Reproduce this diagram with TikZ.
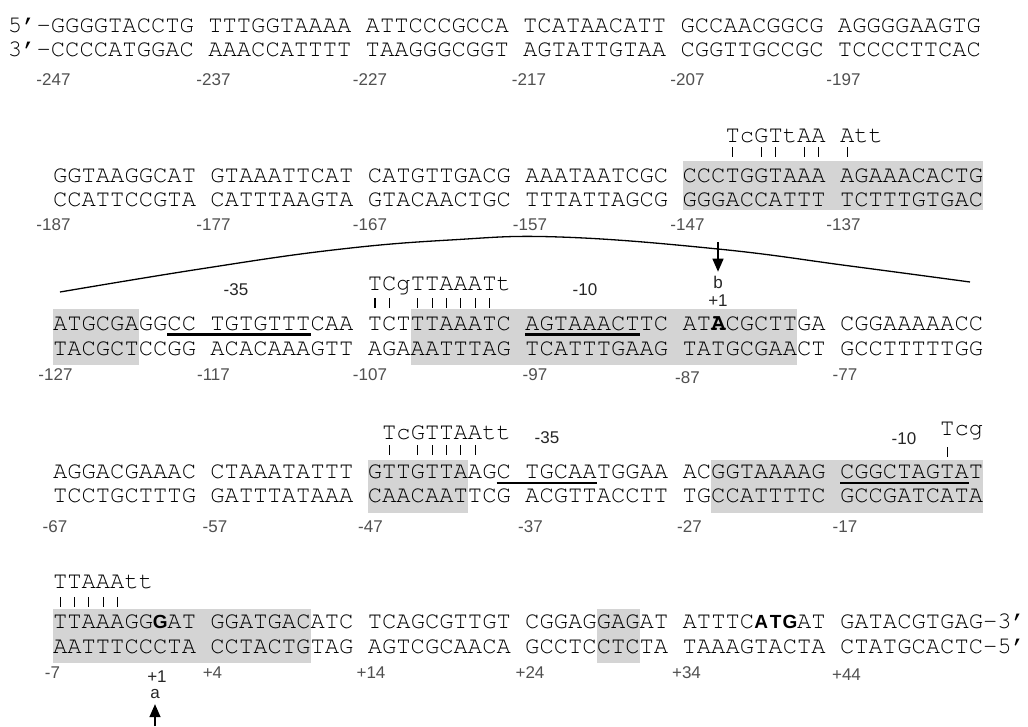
\documentclass[tikz,border=0pt]{standalone}
\usepackage[T1]{fontenc}
\usepackage{fontspec}
\setmainfont{Liberation Serif}
\setsansfont{Liberation Sans}
\usetikzlibrary{arrows.meta}
\definecolor{shade}{RGB}{212,212,212}
\definecolor{numgray}{RGB}{80,80,80}
\newcommand\seqfamily{\fontencoding{T1}\fontfamily{pcr}\fontseries{m}\fontshape{n}\selectfont}
\newcommand\cx[1]{53+#1*14.31}
\newcommand\bsans[1]{\makebox[14.31pt]{\fontencoding{TU}\fontsize{19}{20}\selectfont\sffamily\bfseries #1}}
\newcommand\bmono[1]{\textbf{#1}}
\tikzset{
  seq/.style={anchor=base west, inner sep=0pt, outer sep=0pt, font=\seqfamily\fontsize{23.85}{28}\selectfont},
  num/.style={anchor=base, inner sep=0pt, outer sep=0pt, font=\sffamily\fontsize{17}{19}\selectfont, text=numgray},
  lbl/.style={anchor=base, inner sep=0pt, outer sep=0pt, font=\sffamily\fontsize{17}{19}\selectfont, text=black!85},
  tickmark/.style={line width=1.1pt},
  uline/.style={line width=2.6pt},
  greybox/.style={fill=shade, draw=none},
  arr/.style={-{Triangle[width=11pt,length=13pt]}, line width=1.4pt},
  arc/.style={line width=1.3pt}
}
\begin{document}
\begin{tikzpicture}[x=1pt,y=-1pt]
\useasboundingbox (0,0) rectangle (1028,726);
\fill[white] (0,0) rectangle (1028,726);
% ---------- grey boxes ----------
\fill[greybox] ({\cx{44}},161) rectangle ({\cx{65}},210);
\fill[greybox] ({\cx{0}},309) rectangle ({\cx{6}},365);
\fill[greybox] ({\cx{25}},309) rectangle ({\cx{52}},365);
\fill[greybox] ({\cx{22}},460) rectangle ({\cx{29}},513);
\fill[greybox] ({\cx{46}},460) rectangle ({\cx{65}},513);
\fill[greybox] ({\cx{0}},609) rectangle ({\cx{18}},663);
\fill[greybox] ({\cx{38}},609) rectangle ({\cx{41}},663);
% ---------- block 1 ----------
\node[seq] (b1top) at (8,32) {5'\textendash GGGGTACCTG TTTGGTAAAA ATTCCCGCCA TCATAACATT GCCAACGGCG AGGGGAAGTG};
\node[seq] (b1bot) at (8,56) {3'\textendash CCCCATGGAC AAACCATTTT TAAGGGCGGT AGTATTGTAA CGGTTGCCGC TCCCCTTCAC};
\node[num] (n247) at (53.5,85) {-247};
\node[num] (n237) at (213.5,85) {-237};
\node[num] (n227) at (370,85) {-227};
\node[num] (n217) at (529,85) {-217};
\node[num] (n207) at (687.5,85) {-207};
\node[num] (n197) at (843.5,85) {-197};
% ---------- block 2 ----------
\node[seq] (b2cons) at ({\cx{47}},142) {TcGTtAA Att};
\foreach \c in {47,49,50,52,53,55} \draw[tickmark] ({\cx{\c}+7.155},147) -- ++(0,10);
\node[seq] (b2top) at ({\cx{0}},182) {GGTAAGGCAT GTAAATTCAT CATGTTGACG AAATAATCGC CCCTGGTAAA AGAAACACTG};
\node[seq] (b2bot) at ({\cx{0}},206) {CCATTCCGTA CATTTAAGTA GTACAACTGC TTTATTAGCG GGGACCATTT TCTTTGTGAC};
\node[num] (n187) at (53.5,230) {-187};
\node[num] (n177) at (213.5,230) {-177};
\node[num] (n167) at (370,230) {-167};
\node[num] (n157) at (530,230) {-157};
\node[num] (n147) at (687.5,230) {-147};
\node[num] (n137) at (843.5,230) {-137};
% ---------- block 3 ----------
\draw[arc] plot[smooth, tension=0.7] coordinates {(60,292) (200,269) (333,250) (450,240) (560,237) (718,249) (850,266) (970,282)};
\node[lbl] (b3m35) at (236,295) {-35};
\node[lbl] (b3m10) at (585,295) {-10};
\node[seq] (b3cons) at ({\cx{22}},290) {TCgTTAAATt};
\foreach \c in {22,23,25,26,27,28,29,30} \draw[tickmark] ({\cx{\c}+7.155},298) -- ++(0,10);
\node[lbl] (lb) at (718,288) {b};
\node[lbl] (bplus) at (718,306) {+1};
\coordinate (bstart) at (718,242);
\draw[arr] (bstart) -- ([yshift=4pt]lb.north);
\node[seq] (b3top) at ({\cx{0}},330) {ATGCGAGGCC TGTGTTTCAA TCTTTAAATC AGTAAACTTC AT\bmono{A}CGCTTGA CGGAAAAACC};
\node[seq] (b3bot) at ({\cx{0}},355) {TACGCTCCGG ACACAAAGTT AGAAATTTAG TCATTTGAAG TATGCGAACT GCCTTTTTGG};
\draw[uline] ({\cx{8}},334.5) -- ({\cx{18}},334.5);
\draw[uline] ({\cx{33}},334.5) -- ({\cx{41}},334.5);
\node[num] (n127) at (55.5,380) {-127};
\node[num] (n117) at (213.5,380) {-117};
\node[num] (n107) at (370,380) {-107};
\node[num] (n97) at (535,380) {-97};
\node[num] (n87) at (687.5,383) {-87};
\node[num] (n77) at (845,380) {-77};
% ---------- block 4 ----------
\node[seq] (b4cons) at ({\cx{23}},439) {TcGTTAAtt};
\foreach \c in {23,25,26,27,28,29} \draw[tickmark] ({\cx{\c}+7.155},445) -- ++(0,10);
\node[lbl] (b4m35) at (547,443) {-35};
\node[lbl] (b4m10) at (904,444) {-10};
\node[seq] (b4tcg) at ({\cx{62}},435) {Tcg};
\draw[tickmark] ({\cx{62}+7.155},447) -- ++(0,10);
\node[seq] (b4top) at ({\cx{0}},478) {AGGACGAAAC CTAAATATTT GTTGTTAAGC TGCAATGGAA ACGGTAAAAG CGGCTAGTAT};
\node[seq] (b4bot) at ({\cx{0}},502) {TCCTGCTTTG GATTTATAAA CAACAATTCG ACGTTACCTT TGCCATTTTC GCCGATCATA};
\draw[uline] ({\cx{31}},483) -- ({\cx{38}},483);
\draw[uline] ({\cx{55}},483) -- ({\cx{64}},483);
\node[num] (n67) at (55,532) {-67};
\node[num] (n57) at (215,532) {-57};
\node[num] (n47) at (370.5,532) {-47};
\node[num] (n37) at (530.5,532) {-37};
\node[num] (n27) at (689.5,532) {-27};
\node[num] (n17) at (845,532) {-17};
% ---------- block 5 ----------
\node[seq] (b5cons) at ({\cx{0}},588) {TTAAAtt};
\foreach \c in {0,1,2,3,4} \draw[tickmark] ({\cx{\c}+7.155},597) -- ++(0,10);
\node[seq] (b5top) at ({\cx{0}},628) {TTAAAGG\bsans{G}AT GGATGACATC TCAGCGTTGT CGGAGGAGAT ATTTC\bsans{A}\bsans{T}\bsans{G}AT GATACGTGAG\textendash 3'};
\node[seq] (b5bot) at ({\cx{0}},653) {AATTTCCCTA CCTACTGTAG AGTCGCAACA GCCTCCTCTA TAAAGTACTA CTATGCACTC\textendash 5'};
\node[num] (n7) at (52.5,678) {-7};
\node[num] (p4) at (212.5,678) {+4};
\node[num] (p14) at (371,678) {+14};
\node[num] (p24) at (530,678) {+24};
\node[num] (p34) at (686.5,678) {+34};
\node[num] (p44) at (846.5,680) {+44};
\node[lbl] (aplus) at (157,682) {+1};
\node[lbl] (la) at (155,698) {a};
\coordinate (astart) at (155,726);
\draw[arr] (astart) -- ([yshift=-6pt]la.south);
\end{tikzpicture}
\end{document}
